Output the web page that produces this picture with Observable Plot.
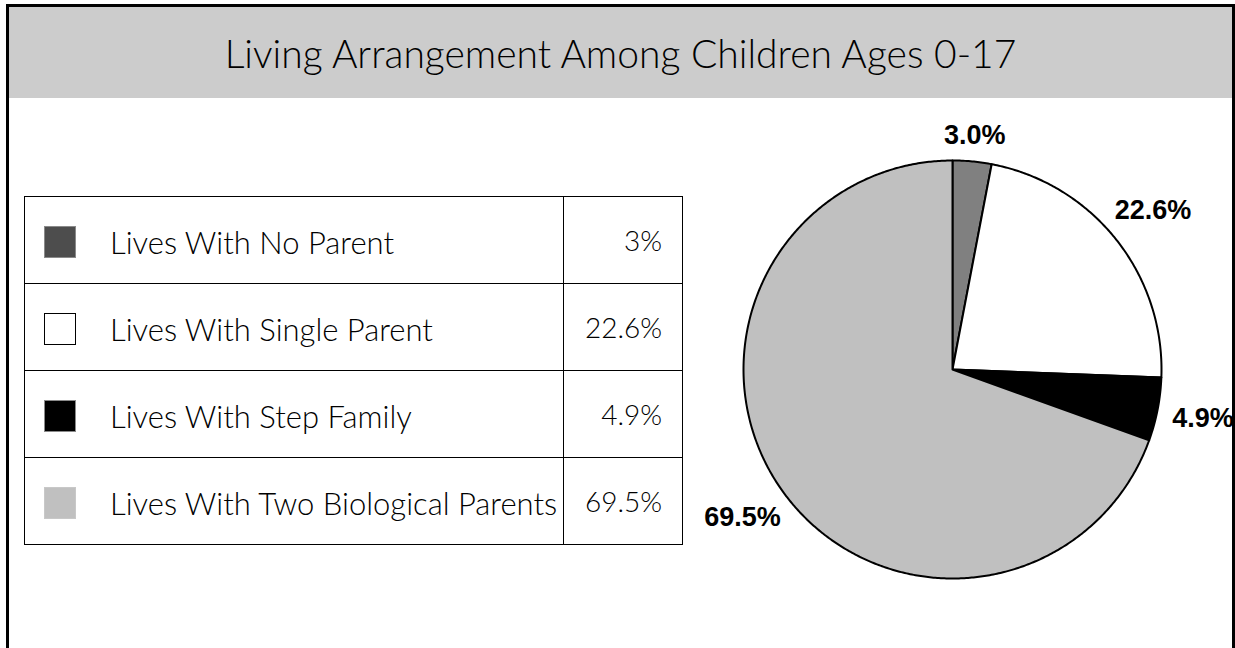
<!DOCTYPE html>
<html>
<head>
<meta charset="utf-8">
<script src="https://cdn.jsdelivr.net/npm/d3@7"></script>
<script src="https://cdn.jsdelivr.net/npm/@observablehq/plot@0.6"></script>
<style>
  html, body { margin: 0; padding: 0; background: #fff; }
  #page { position: relative; width: 1235px; height: 648px; overflow: hidden; background: #fff; }
  #frame { position: absolute; left: 6px; top: 4px; width: 1229px; height: 700px;
           border: 3px solid #000; border-bottom: none; box-sizing: border-box; }
  #band { position: absolute; left: 9px; top: 7px; width: 1223px; height: 91px; background: #cccccc;
          display: flex; align-items: center; justify-content: center;
          font-family: Lato, "Open Sans", sans-serif; font-weight: 300; font-size: 39px; color: #000; }
  #legend { position: absolute; left: 24px; top: 196px; border-collapse: collapse;
            font-family: Lato, "Open Sans", sans-serif; font-weight: 300; color: #000; }
  #legend td { border: 1px solid #000; height: 86px; padding: 0; }
  #legend td.lab { width: 538px; font-size: 31px; }
  #legend td.val { width: 119px; text-align: right; padding-right: 20px; box-sizing: border-box; font-size: 28px; }
  .sw { display: inline-block; width: 32px; height: 32px; margin-left: 19px; margin-right: 34px;
        vertical-align: middle; box-sizing: border-box; }
  .lab span.t { vertical-align: middle; }
  #pie { position: absolute; left: 700px; top: 100px; }
</style>
</head>
<body>
<div id="page">
  <div id="frame"></div>
  <div id="band"></div>
  <table id="legend"></table>
  <div id="pie"></div>
</div>
<script>
// ---- data ----
const title = "Living Arrangement Among Children Ages 0-17";
const categories = ["Lives With No Parent", "Lives With Single Parent", "Lives With Step Family", "Lives With Two Biological Parents"];
const values = [3.0, 22.6, 4.9, 69.5];
const tableLabels = ["3%", "22.6%", "4.9%", "69.5%"];
const pieLabels = ["3.0%", "22.6%", "4.9%", "69.5%"];
const pieColors = ["#808080", "#ffffff", "#000000", "#c0c0c0"];
const legendColors = ["#4d4d4d", "#ffffff", "#000000", "#c0c0c0"];

// ---- title ----
document.getElementById("band").textContent = title;

// ---- legend table ----
const table = document.getElementById("legend");
categories.forEach((c, i) => {
  const tr = document.createElement("tr");
  const td1 = document.createElement("td");
  td1.className = "lab";
  const sw = document.createElement("span");
  sw.className = "sw";
  sw.style.background = legendColors[i];
  sw.style.border = legendColors[i] === "#ffffff" ? "1.5px solid #000" : (legendColors[i] === "#c0c0c0" ? "1px solid #c8c8c8" : "1px solid #8a8a8a");
  const t = document.createElement("span");
  t.className = "t";
  t.textContent = c;
  td1.appendChild(sw); td1.appendChild(t);
  const td2 = document.createElement("td");
  td2.className = "val";
  td2.textContent = tableLabels[i];
  tr.appendChild(td1); tr.appendChild(td2);
  table.appendChild(tr);
});

// ---- pie ----
const total = d3.sum(values);
let acc = 0;
const slices = values.map((v, i) => {
  const a0 = acc / total * 2 * Math.PI;
  acc += v;
  const a1 = acc / total * 2 * Math.PI;
  return {i, a0, a1, mid: (a0 + a1) / 2};
});
const slicePoints = slices.map(s => {
  const pts = [{x: 0, y: 0}];
  const n = Math.max(2, Math.ceil((s.a1 - s.a0) / (Math.PI / 360)));
  for (let k = 0; k <= n; k++) {
    const a = s.a0 + (s.a1 - s.a0) * k / n;
    pts.push({x: Math.sin(a), y: Math.cos(a)});
  }
  return pts;
});
const labelData = slices.map(s => {
  const c = Math.cos(s.mid);
  const k = 1.21 - 0.09 * Math.pow(c, 4) + 0.03 * Math.abs(Math.sin(2 * s.mid));
  return {x: k * Math.sin(s.mid), y: k * Math.cos(s.mid), text: pieLabels[s.i]};
});

const W = 532, H = 538, R = 209;
const cx = 252, cy = H / 2;
const chart = Plot.plot({
  width: W, height: H,
  marginLeft: cx - R, marginRight: W - cx - R, marginTop: cy - R, marginBottom: H - cy - R,
  x: {domain: [-1, 1], axis: null},
  y: {domain: [-1, 1], axis: null},
  style: {background: "transparent", overflow: "visible"},
  marks: [
    ...slicePoints.map((pts, i) => Plot.line(pts, {
      x: "x", y: "y", curve: "linear-closed",
      fill: pieColors[i], stroke: "#000", strokeWidth: 2, strokeLinejoin: "round"
    })),
    Plot.text(labelData, {
      x: "x", y: "y", text: "text",
      fontSize: 27, fontWeight: "bold", fontFamily: "Liberation Sans, Arial, sans-serif", fill: "#000"
    })
  ]
});
document.getElementById("pie").appendChild(chart);
</script>
</body>
</html>
